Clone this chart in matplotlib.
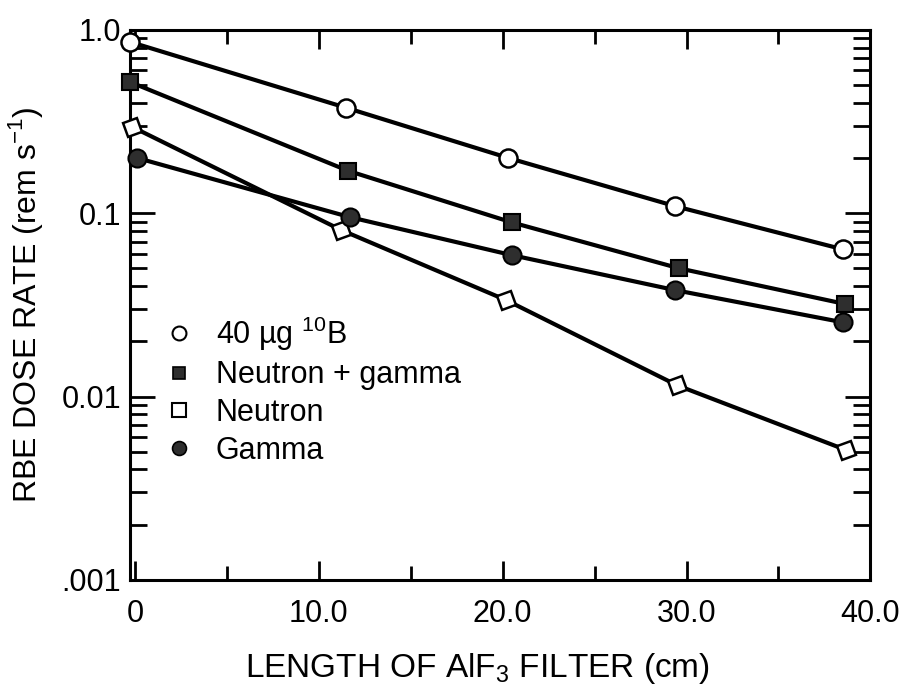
import matplotlib
matplotlib.use("Agg")
import matplotlib.pyplot as plt
from matplotlib.lines import Line2D
from matplotlib.ticker import FixedLocator, LogLocator, NullFormatter

plt.rcParams['font.family'] = ['Liberation Sans', 'DejaVu Sans']
plt.rcParams['mathtext.fontset'] = 'custom'
plt.rcParams['mathtext.rm'] = 'Liberation Sans'

# filter length (cm) and dose rates (rem/s)
x_boron = [-0.3, 11.5, 20.3, 29.4, 38.5]
boron = [0.86, 0.375, 0.20, 0.109, 0.0635]

x_ng = [-0.3, 11.6, 20.5, 29.6, 38.6]
neutron_gamma = [0.52, 0.170, 0.089, 0.050, 0.032]

x_neutron = [-0.15, 11.2, 20.2, 29.5, 38.7]
neutron = [0.295, 0.081, 0.0335, 0.0115, 0.0051]

x_gamma = [0.1, 11.7, 20.5, 29.4, 38.5]
gamma = [0.20, 0.095, 0.059, 0.038, 0.0254]

labels = ["40 µg $^{10}$B", "Neutron + gamma", "Neutron", "Gamma"]

fig = plt.figure(figsize=(9, 6.92), dpi=100)
ax = fig.add_axes([0.144, 0.162, 0.823, 0.795])

dark = "#2e2e2e"
ax.plot(x_boron, boron, color="black", lw=3, marker="o", ms=13,
        mfc="white", mec="black", mew=1.8, clip_on=False, zorder=3)
ax.plot(x_ng, neutron_gamma, color="black", lw=3, marker="s", ms=12,
        mfc=dark, mec="black", mew=1.5, clip_on=False, zorder=3)
ax.plot(x_neutron, neutron, color="black", lw=3, marker=(4, 0, 65), ms=15,
        mfc="white", mec="black", mew=1.8, clip_on=False, zorder=3)
ax.plot(x_gamma, gamma, color="black", lw=3, marker="o", ms=13,
        mfc=dark, mec="black", mew=1.5, clip_on=False, zorder=3)

ax.set_yscale("log")
ax.set_ylim(0.001, 1.0)
ax.set_xlim(-0.3, 40)

ax.xaxis.set_major_locator(FixedLocator([0, 10, 20, 30, 40]))
ax.xaxis.set_minor_locator(FixedLocator([5, 15, 25, 35]))
ax.set_xticklabels(["0", "10.0", "20.0", "30.0", "40.0"])
ax.yaxis.set_major_locator(FixedLocator([0.001, 0.01, 0.1, 1.0]))
ax.yaxis.set_minor_locator(LogLocator(base=10, subs=range(2, 10)))
ax.yaxis.set_minor_formatter(NullFormatter())
ax.set_yticklabels([".001", "0.01", "0.1", "1.0"])

ax.tick_params(axis="both", which="both", direction="in", top=True, right=True,
               labelsize=22, width=2)
ax.tick_params(axis="x", which="major", length=14, pad=14)
ax.tick_params(axis="x", which="minor", length=10)
ax.tick_params(axis="y", which="major", length=18, pad=6)
ax.tick_params(axis="y", which="minor", length=12)
for s in ax.spines.values():
    s.set_linewidth(2.2)

ax.set_xlabel("LENGTH OF AlF$_3$ FILTER (cm)", fontsize=24, labelpad=16)
ax.xaxis.set_label_coords(0.47, -0.13)
ax.set_ylabel("RBE DOSE RATE (rem s$^{-1}$)", fontsize=23, labelpad=12)

handles = [
    Line2D([], [], ls="none", marker="o", ms=10, mfc="white", mec="black", mew=1.5),
    Line2D([], [], ls="none", marker="s", ms=8, mfc=dark, mec="black", mew=1.2),
    Line2D([], [], ls="none", marker="s", ms=10, mfc="white", mec="black", mew=1.5),
    Line2D([], [], ls="none", marker="o", ms=10, mfc=dark, mec="black", mew=1.2),
]
ax.legend(handles, labels, loc="upper left", bbox_to_anchor=(0.03, 0.505),
          frameon=False, fontsize=22, handlelength=1.0, handletextpad=0.7,
          labelspacing=0.25, borderaxespad=0)

fig.savefig("out.png", dpi=100)
